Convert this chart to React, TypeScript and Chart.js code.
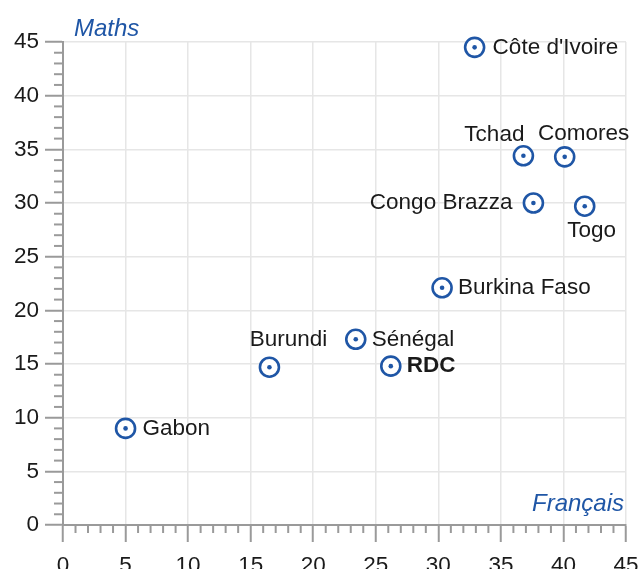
import React, { useEffect, useRef } from "react";
import { Chart, registerables } from "chart.js";

Chart.register(...registerables);

// ---- data ----
const countries = [
  "Gabon",
  "Burundi",
  "Sénégal",
  "RDC",
  "Burkina Faso",
  "Côte d'Ivoire",
  "Tchad",
  "Comores",
  "Congo Brazza",
  "Togo",
];
const francais = [5.0, 16.5, 23.4, 26.2, 30.3, 32.9, 36.8, 40.1, 37.6, 41.7];
const maths = [9.0, 14.7, 17.3, 14.8, 22.1, 44.5, 34.4, 34.3, 30.0, 29.7];
const tickValues = [0, 5, 10, 15, 20, 25, 30, 35, 40, 45];
const xTitle = "Français";
const yTitle = "Maths";

// ---- label placement (style, not data) ----
const labelPlacement: { dx: number; dy: number; align: CanvasTextAlign; bold?: boolean }[] = [
  { dx: 17, dy: 0, align: "left" },
  { dx: 19, dy: -27, align: "center" },
  { dx: 16, dy: 0, align: "left" },
  { dx: 16, dy: 0, align: "left", bold: true },
  { dx: 16, dy: 0, align: "left" },
  { dx: 18, dy: 0, align: "left" },
  { dx: 1, dy: -21, align: "right" },
  { dx: 19, dy: -23, align: "center" },
  { dx: -21, dy: 0, align: "right" },
  { dx: 7, dy: 25, align: "center" },
];

const BLUE = "#1f56a6";
const AXIS = "#9a9a9a";
const GRID = "#e6e6e6";
const TEXT = "#1a1a1a";
const FONT = "'Liberation Sans', Arial, sans-serif";

const minorTicksPlugin = {
  id: "minorTicks",
  afterDraw(chart: any) {
    const ctx = chart.ctx;
    const xs = chart.scales.x;
    const ys = chart.scales.y;
    ctx.save();
    ctx.strokeStyle = AXIS;
    ctx.lineWidth = 2;
    for (let v = xs.min; v <= xs.max; v += 1) {
      if (v % 5 === 0) continue;
      const px = xs.getPixelForValue(v);
      ctx.beginPath();
      ctx.moveTo(px, ys.bottom);
      ctx.lineTo(px, ys.bottom + 8);
      ctx.stroke();
    }
    for (let v = ys.min; v <= ys.max; v += 1) {
      if (v % 5 === 0) continue;
      const py = ys.getPixelForValue(v);
      ctx.beginPath();
      ctx.moveTo(xs.left, py);
      ctx.lineTo(xs.left - 9, py);
      ctx.stroke();
    }
    ctx.restore();
  },
};

const labelsPlugin = {
  id: "pointLabels",
  afterDatasetsDraw(chart: any) {
    const ctx = chart.ctx;
    const meta = chart.getDatasetMeta(1);
    ctx.save();
    ctx.fillStyle = TEXT;
    ctx.textBaseline = "middle";
    meta.data.forEach((el: any, i: number) => {
      const p = labelPlacement[i];
      ctx.font = `${p.bold ? "bold " : ""}22.5px ${FONT}`;
      ctx.textAlign = p.align;
      ctx.fillText(countries[i], el.x + p.dx, el.y + p.dy);
    });
    // axis titles
    const ca = chart.chartArea;
    ctx.fillStyle = BLUE;
    ctx.font = `italic 24px ${FONT}`;
    ctx.textAlign = "left";
    ctx.fillText(yTitle, ca.left + 11, ca.top - 13);
    ctx.textAlign = "right";
    ctx.fillText(xTitle, ca.right - 2, ca.bottom - 21);
    ctx.restore();
  },
};

export default function App() {
  const ref = useRef<HTMLCanvasElement>(null);
  useEffect(() => {
    if (!ref.current) return;
    const pts = francais.map((x, i) => ({ x, y: maths[i] }));
    const chart = new Chart(ref.current, {
      type: "scatter",
      data: {
        datasets: [
          {
            data: pts,
            pointRadius: 2.3,
            pointHoverRadius: 2.3,
            borderWidth: 0,
            backgroundColor: BLUE,
            borderColor: BLUE,
            clip: false,
          },
          {
            data: pts,
            pointRadius: 9.5,
            pointHoverRadius: 9.5,
            borderWidth: 2.6,
            borderColor: BLUE,
            backgroundColor: "#ffffff",
            clip: false,
          },
        ],
      },
      options: {
        responsive: false,
        animation: false,
        events: [],
        layout: { padding: { top: 42, right: 14, left: 0, bottom: 0 } },
        plugins: { legend: { display: false }, tooltip: { enabled: false } },
        scales: {
          x: {
            type: "linear",
            min: 0,
            max: 45,
            afterFit: (s: any) => {
              s.height = 44;
              s.paddingLeft = 0;
              s.paddingRight = 0;
            },
            afterBuildTicks: (s: any) => {
              s.ticks = tickValues.map((v) => ({ value: v }));
            },
            border: { color: AXIS, width: 2 },
            grid: {
              color: GRID,
              lineWidth: 1.5,
              tickColor: AXIS,
              tickLength: 17,
              tickWidth: 2,
            },
            ticks: {
              color: TEXT,
              font: { family: FONT, size: 22.5 },
              padding: 10,
              maxRotation: 0,
            },
          },
          y: {
            type: "linear",
            min: 0,
            max: 45,
            afterFit: (s: any) => {
              s.width = 63;
              s.paddingTop = 0;
              s.paddingBottom = 0;
            },
            afterBuildTicks: (s: any) => {
              s.ticks = tickValues.map((v) => ({ value: v }));
            },
            border: { color: AXIS, width: 2 },
            grid: {
              color: GRID,
              lineWidth: 1.5,
              tickColor: AXIS,
              tickLength: 18,
              tickWidth: 2,
            },
            ticks: {
              color: TEXT,
              font: { family: FONT, size: 22.5 },
              padding: 6,
            },
          },
        },
      },
      plugins: [minorTicksPlugin, labelsPlugin],
    });
    return () => chart.destroy();
  }, []);
  return (
    <div style={{ position: "absolute", left: 0, top: 0, width: 640, height: 569, background: "#fff" }}>
      <canvas ref={ref} width={640} height={569} style={{ display: "block" }} />
    </div>
  );
}
